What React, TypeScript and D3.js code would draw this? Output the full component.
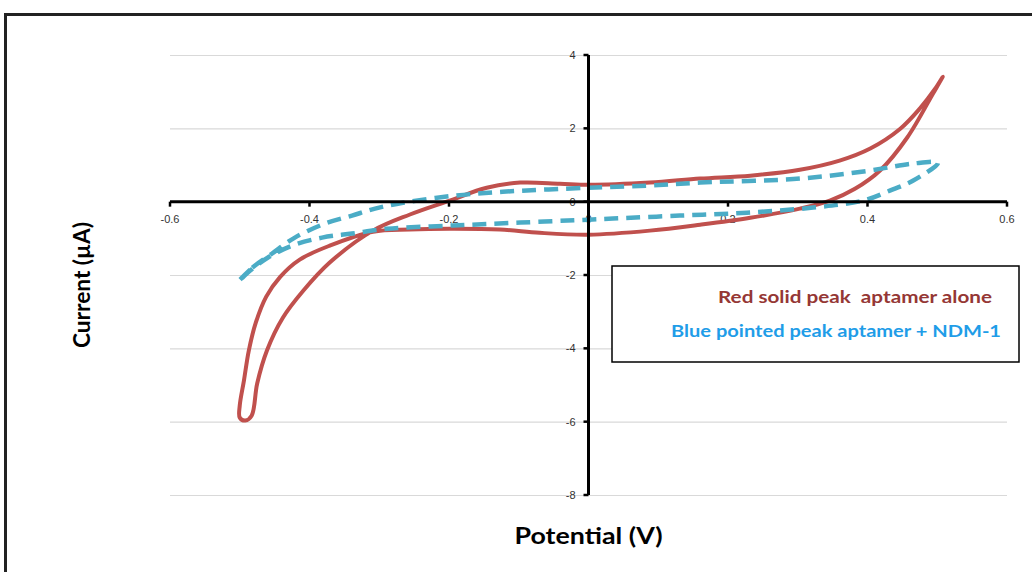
import React, { useRef, useEffect } from "react";
import * as d3 from "d3";

const xTicks = [-0.6, -0.4, -0.2, 0, 0.2, 0.4, 0.6];
const yTicks = [4, 2, 0, -2, -4, -6, -8];

// red loop: forward scan from the cathodic tip, then the return scan
const redPotential = [
    -0.492, -0.483, -0.475, -0.461, -0.438, -0.409, -0.371, -0.309, -0.256, -0.199, -0.146, -0.098,
    -0.041, 0.0, 0.088, 0.16, 0.232, 0.303, 0.36, 0.404, 0.447, 0.475, 0.497, 0.508,
    0.494, 0.457, 0.418, 0.382, 0.346, 0.303, 0.232, 0.16, 0.088, 0.0, -0.07, -0.127,
    -0.199, -0.256, -0.309, -0.371, -0.414, -0.442, -0.462, -0.477, -0.487, -0.494, -0.5, -0.5
];
const redCurrent = [
    -5.97, -5.84, -4.96, -4.06, -3.16, -2.43, -1.66, -0.79, -0.35, 0.03, 0.38, 0.52,
    0.49, 0.46, 0.52, 0.63, 0.71, 0.87, 1.12, 1.45, 1.99, 2.54, 3.08, 3.41,
    2.95, 1.75, 0.85, 0.35, 0.03, -0.19, -0.44, -0.63, -0.79, -0.9, -0.85, -0.76,
    -0.74, -0.76, -0.82, -1.2, -1.58, -2.05, -2.59, -3.3, -4.06, -4.88, -5.56, -5.89
];

const bluePotential = [
    -0.502, -0.482, -0.454, -0.421, -0.378, -0.339, -0.306, -0.266, -0.194, -0.123, 0.0, 0.088,
    0.16, 0.303, 0.404, 0.465, 0.501,
    0.465, 0.432, 0.394, 0.322, 0.227, 0.131, 0.035, 0.0, -0.098, -0.194, -0.289,
    -0.339, -0.382, -0.425, -0.46, -0.485
];
const blueCurrent = [
    -2.18, -1.8, -1.42, -0.98, -0.6, -0.38, -0.19, -0.03, 0.16, 0.27, 0.38, 0.44,
    0.52, 0.63, 0.85, 1.04, 1.06,
    0.57, 0.3, 0.03, -0.16, -0.3, -0.38, -0.46, -0.49, -0.57, -0.65, -0.74,
    -0.87, -0.98, -1.2, -1.53, -1.88
];

const legendItems = [
    { label: "Red solid peak  aptamer alone", color: "#953735" },
    { label: "Blue pointed peak aptamer + NDM-1", color: "#1f9de8" }
];

const App = () => {
    const svgRef = useRef<SVGSVGElement | null>(null);

    useEffect(() => {
        if (!svgRef.current) return;
        const width = 1032;
        const height = 572;

        const svg = d3.select(svgRef.current);
        svg.selectAll("*").remove();
        svg.attr("width", width).attr("height", height);

        // outer frame of the pasted figure
        svg.append("path")
            .attr("d", `M5.5,${height + 5} L5.5,14.5 L${width + 5},14.5`)
            .attr("fill", "none")
            .attr("stroke", "#222")
            .attr("stroke-width", 3);

        const x = d3.scaleLinear().domain([-0.6, 0.6]).range([170, 1007]);
        const y = d3.scaleLinear().domain([-8, 4]).range([495, 55]);

        // gridlines
        svg.append("g")
            .selectAll("line")
            .data(yTicks)
            .enter().append("line")
            .attr("x1", x(-0.6))
            .attr("x2", x(0.6))
            .attr("y1", d => y(d) + 0.5)
            .attr("y2", d => y(d) + 0.5)
            .attr("stroke", "#d9d9d9")
            .attr("stroke-width", 1.2);

        const tickFont = "'Liberation Sans', Arial, sans-serif";

        // x tick labels (drawn before axis so the y axis covers the "0")
        svg.append("g")
            .selectAll("text")
            .data(xTicks)
            .enter().append("text")
            .attr("x", d => x(d))
            .attr("y", y(0) + 21)
            .attr("text-anchor", "middle")
            .style("font-family", tickFont)
            .style("font-size", "11px")
            .style("fill", "#333")
            .text(d => String(d));

        // y tick labels
        svg.append("g")
            .selectAll("text")
            .data(yTicks)
            .enter().append("text")
            .attr("x", x(0) - 13)
            .attr("y", d => y(d) + 4)
            .attr("text-anchor", "end")
            .style("font-family", tickFont)
            .style("font-size", "11px")
            .style("fill", "#333")
            .text(d => String(d));

        // curves
        const line = d3.line<[number, number]>()
            .x(d => x(d[0]))
            .y(d => y(d[1]))
            .curve(d3.curveCatmullRomClosed.alpha(0.5));

        const redPoints = redPotential.map((p, i) => [p, redCurrent[i]] as [number, number]);
        const bluePoints = bluePotential.map((p, i) => [p, blueCurrent[i]] as [number, number]);

        svg.append("path")
            .datum(redPoints)
            .attr("fill", "none")
            .attr("stroke", "#c0504d")
            .attr("stroke-width", 4)
            .attr("stroke-linejoin", "round")
            .attr("d", line);

        svg.append("path")
            .datum(bluePoints)
            .attr("fill", "none")
            .attr("stroke", "#4bacc6")
            .attr("stroke-width", 4.5)
            .attr("stroke-dasharray", "14 8")
            .attr("d", line);

        // axes
        svg.append("line")
            .attr("x1", x(-0.6)).attr("x2", x(0.6))
            .attr("y1", y(0)).attr("y2", y(0))
            .attr("stroke", "#000").attr("stroke-width", 3);

        svg.append("line")
            .attr("x1", x(0)).attr("x2", x(0))
            .attr("y1", y(4)).attr("y2", y(-8))
            .attr("stroke", "#000").attr("stroke-width", 3);

        svg.append("g")
            .selectAll("line")
            .data(xTicks)
            .enter().append("line")
            .attr("x1", d => x(d)).attr("x2", d => x(d))
            .attr("y1", y(0)).attr("y2", y(0) + 5)
            .attr("stroke", "#000").attr("stroke-width", 2.5);

        svg.append("g")
            .selectAll("line")
            .data(yTicks)
            .enter().append("line")
            .attr("x1", x(0) - 5).attr("x2", x(0))
            .attr("y1", d => y(d)).attr("y2", d => y(d))
            .attr("stroke", "#000").attr("stroke-width", 2.5);

        // axis titles
        const titleFont = "Lato, 'Open Sans', sans-serif";
        svg.append("text")
            .attr("x", x(0) - 74)
            .attr("y", 544)
            .attr("textLength", 148)
            .attr("lengthAdjust", "spacingAndGlyphs")
            .style("font-family", titleFont)
            .style("font-weight", "bold")
            .style("font-size", "23px")
            .style("fill", "#000")
            .text("Potential (V)");

        svg.append("text")
            .attr("transform", "translate(90,348) rotate(-90)")
            .attr("textLength", 126)
            .attr("lengthAdjust", "spacingAndGlyphs")
            .style("font-family", titleFont)
            .style("font-weight", "bold")
            .style("font-size", "23px")
            .style("fill", "#000")
            .text("Current (µA)");

        // legend box
        svg.append("rect")
            .attr("x", 612)
            .attr("y", 266)
            .attr("width", 407)
            .attr("height", 96)
            .attr("fill", "#fff")
            .attr("stroke", "#000")
            .attr("stroke-width", 1.5);

        const legendRight = [992, 1001];
        const legendBase = [303, 337];
        const legendWidth = [274, 330];
        svg.append("g")
            .selectAll("text")
            .data(legendItems)
            .enter().append("text")
            .attr("x", (d, i) => legendRight[i] - legendWidth[i])
            .attr("y", (d, i) => legendBase[i])
            .attr("textLength", (d, i) => legendWidth[i])
            .attr("lengthAdjust", "spacingAndGlyphs")
            .style("white-space", "pre")
            .style("font-family", titleFont)
            .style("font-weight", "bold")
            .style("font-size", "17px")
            .style("fill", d => d.color)
            .text(d => d.label);
    }, []);

    return (
        <div style={{ position: "absolute", left: 0, top: 0, background: "#fff" }}>
            <svg ref={svgRef}></svg>
        </div>
    );
};

export default App;
